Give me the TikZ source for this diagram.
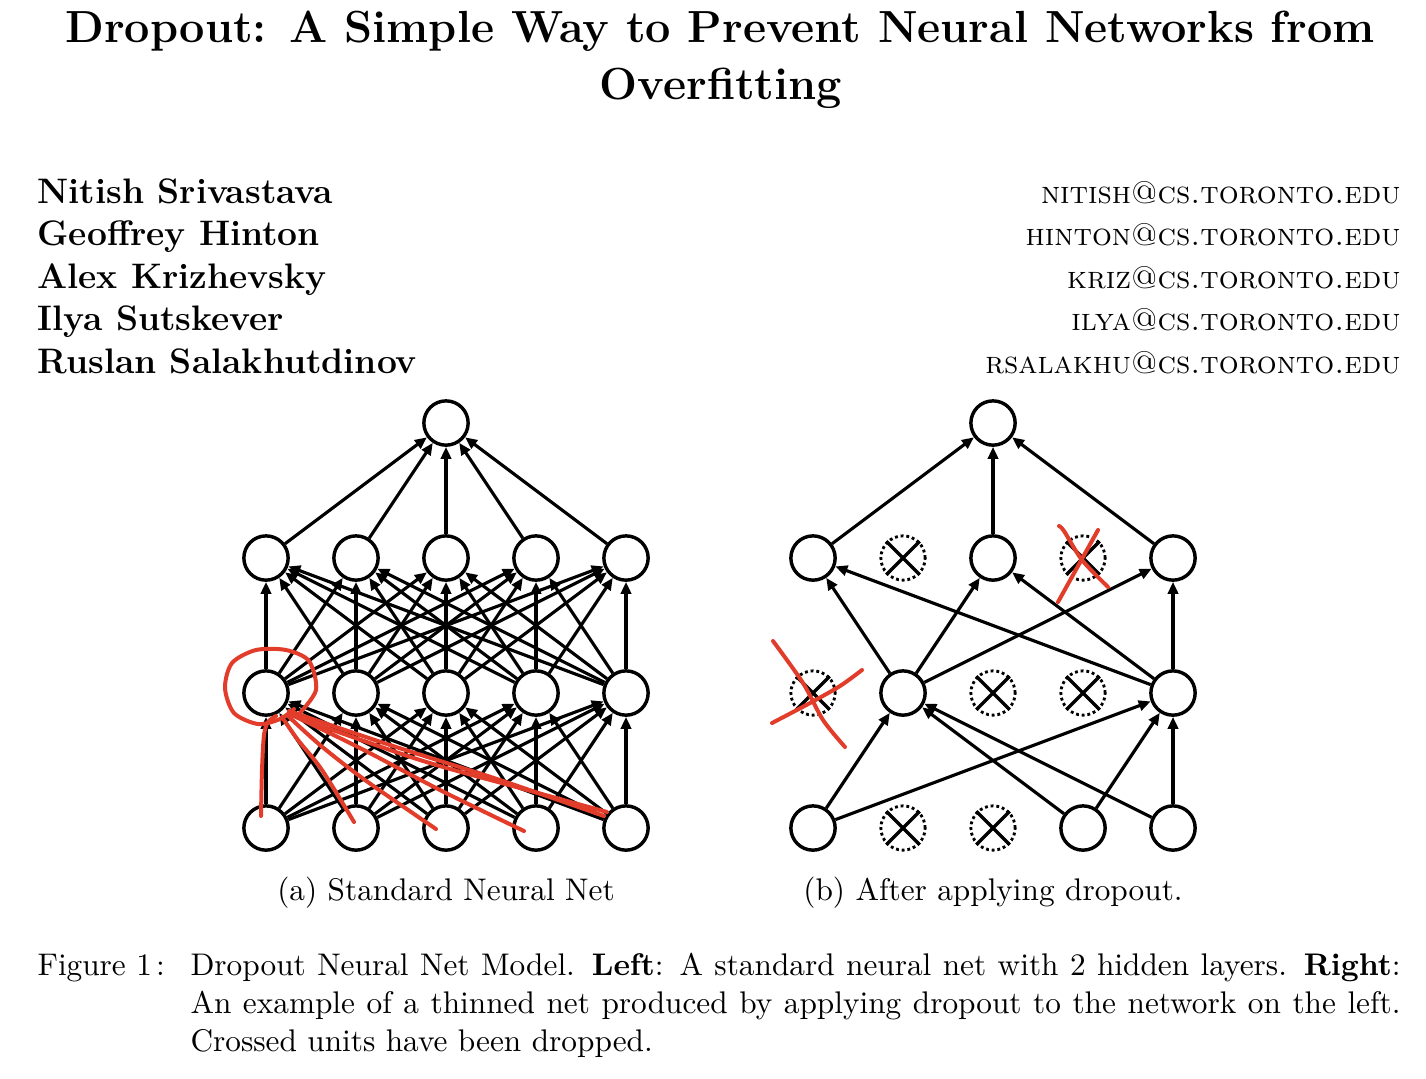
\documentclass[tikz,border=0pt]{standalone}
\usetikzlibrary{arrows.meta}

\definecolor{pen}{RGB}{226,60,42}
\newcommand{\bodyfont}{\fontsize{10.95}{13.6}\selectfont}
\newcommand{\authorfont}{\fontsize{12.4}{15}\selectfont\bfseries}
\newcommand{\titlefont}{\fontsize{15.75}{19}\selectfont\bfseries}

\tikzset{
    unit/.style={circle, draw, line width=1.2pt, minimum size=15.5pt, inner sep=0pt},
    dropped/.style={circle, draw, densely dotted, line width=1pt, minimum size=15.5pt, inner sep=0pt},
    link/.style={-{Triangle[length=4.2pt, width=3.6pt]}, line width=1.1pt},
    scribble/.style={pen, line width=1.4pt, line cap=round, line join=round},
    every node/.style={font=\bodyfont, inner sep=0pt},
}
% draw the cross inside a dropped unit
\newcommand{\crossunit}[1]{\draw[line width=1.2pt] (#1.45) -- (#1.225) (#1.135) -- (#1.315);}

\begin{document}
\begin{tikzpicture}[x=0.35pt, y=-0.35pt]
    \useasboundingbox (0,0) rectangle (1426,1078);

    % title and authors
    \node[anchor=base, font=\titlefont] (title1) at (720,42) {Dropout: A Simple Way to Prevent Neural Networks from};
    \node[anchor=base, font=\titlefont] (title2) at (721,99) {Overfitting};
    \node[anchor=base west, font=\authorfont] (nitish) at (37,203) {Nitish Srivastava};
    \node[anchor=base west, font=\authorfont] (hinton) at (37,245) {Geoffrey Hinton};
    \node[anchor=base west, font=\authorfont] (kriz) at (37,288) {Alex Krizhevsky};
    \node[anchor=base west, font=\authorfont] (ilya) at (37,330) {Ilya Sutskever};
    \node[anchor=base west, font=\authorfont] (rsalakhu) at (37,373) {Ruslan Salakhutdinov};
    \node[anchor=base east, font=\bodyfont\scshape] (nitishmail) at (1401,203) {nitish@cs.toronto.edu};
    \node[anchor=base east, font=\bodyfont\scshape] (hintonmail) at (1401,245) {hinton@cs.toronto.edu};
    \node[anchor=base east, font=\bodyfont\scshape] (krizmail) at (1401,288) {kriz@cs.toronto.edu};
    \node[anchor=base east, font=\bodyfont\scshape] (ilyamail) at (1401,330) {ilya@cs.toronto.edu};
    \node[anchor=base east, font=\bodyfont\scshape] (rsalakhumail) at (1401,373) {rsalakhu@cs.toronto.edu};

    % (a) standard net
    \foreach \i in {1,...,5} {
        \node[unit] (Lin-\i) at ({176+90*\i},828) {};
        \node[unit] (Lhida-\i) at ({176+90*\i},693) {};
        \node[unit] (Lhidb-\i) at ({176+90*\i},558) {};
    }
    \node[unit] (Lout) at (446,423) {};
    \foreach \i in {1,...,5} {
        \foreach \j in {1,...,5} {
            \draw[link] (Lin-\i) -- (Lhida-\j);
            \draw[link] (Lhida-\i) -- (Lhidb-\j);
        }
        \draw[link] (Lhidb-\i) -- (Lout);
    }

    % (b) thinned net
    \foreach \i/\s in {1/unit, 2/dropped, 3/dropped, 4/unit, 5/unit}
        \node[\s] (Rin-\i) at ({723+90*\i},828) {};
    \foreach \i/\s in {1/dropped, 2/unit, 3/dropped, 4/dropped, 5/unit}
        \node[\s] (Rhida-\i) at ({723+90*\i},693) {};
    \foreach \i/\s in {1/unit, 2/dropped, 3/unit, 4/dropped, 5/unit}
        \node[\s] (Rhidb-\i) at ({723+90*\i},558) {};
    \node[unit] (Rout) at (993,423) {};
    \crossunit{Rin-2} \crossunit{Rin-3}
    \crossunit{Rhida-1} \crossunit{Rhida-3} \crossunit{Rhida-4}
    \crossunit{Rhidb-2} \crossunit{Rhidb-4}
    \foreach \i in {1,4,5} {
        \draw[link] (Rin-\i) -- (Rhida-2);
        \draw[link] (Rin-\i) -- (Rhida-5);
    }
    \foreach \j in {1,3,5} {
        \draw[link] (Rhida-2) -- (Rhidb-\j);
        \draw[link] (Rhida-5) -- (Rhidb-\j);
        \draw[link] (Rhidb-\j) -- (Rout);
    }

    % red pen marks
    \draw[scribble] plot[smooth] coordinates {(299,714) (316,690) (309,661) (286,650) (256,650) (232,663) (225,688) (234,713) (258,724) (280,719) (294,709)};
    \draw[scribble] plot[smooth] coordinates {(261,816) (262,770) (264,735) (268,722) (276,716)};
    \draw[scribble] plot[smooth] coordinates {(354,822) (322,770) (298,740) (282,717)};
    \draw[scribble] plot[smooth] coordinates {(436,829) (365,780) (320,745) (287,715)};
    \draw[scribble] plot[smooth] coordinates {(524,831) (440,790) (360,748) (290,714)};
    \draw[scribble] plot[smooth] coordinates {(607,812) (520,788) (420,760) (296,717)};
    \draw[scribble] plot[smooth] coordinates {(604,816) (500,780) (390,745) (289,711)};
    \draw[scribble] plot[smooth] coordinates {(773,641) (803,683) (823,720) (845,747)};
    \draw[scribble] plot[smooth] coordinates {(772,723) (810,703) (840,686) (862,670)};
    \draw[scribble] plot[smooth] coordinates {(1059,526) (1064,531) (1082,560) (1108,587)};
    \draw[scribble] plot[smooth] coordinates {(1098,530) (1083,557) (1058,602)};

    % captions
    \node[anchor=base] (capa) at (446,900) {(a) Standard Neural Net};
    \node[anchor=base] (capb) at (993,900) {(b) After applying dropout.};
    \node[anchor=base west] (fig) at (37,975) {Figure 1\kern1.5pt:};
    \node[anchor=base west] (line1) at (190,975)
        {\makebox[423.5pt][s]{Dropout Neural Net Model. \textbf{Left}: A standard neural net with 2 hidden layers. \textbf{Right}:}};
    \node[anchor=base west] (line2) at (190,1013)
        {\makebox[423.5pt][s]{An example of a thinned net produced by applying dropout to the network on the left.}};
    \node[anchor=base west] (line3) at (190,1051) {Crossed units have been dropped.};
\end{tikzpicture}
\end{document}
